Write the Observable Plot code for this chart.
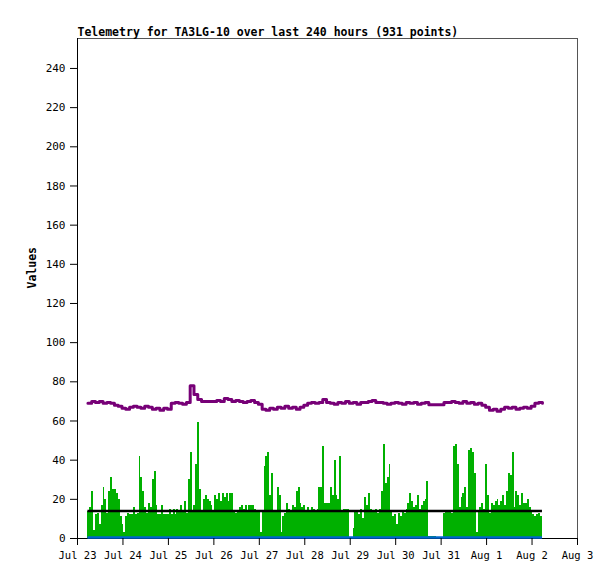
<!DOCTYPE html>
<html><head><meta charset="utf-8">
<script src="https://cdn.jsdelivr.net/npm/d3@7"></script>
<script src="https://cdn.jsdelivr.net/npm/@observablehq/plot@0.6"></script>
<style>body{margin:0;background:#fff}#chart svg{overflow:visible}</style>
</head><body><div id="chart"></div>
<script>
const title = "Telemetry for TA3LG-10 over last 240 hours (931 points)";
const yLabel = "Values";
const startTime = "2023-07-23T05:30:00Z";
const spanHours = 240;
// green series, one value per hour
const greenValues = [
 14,16,24,4,12,13,7,17,26,20,
 13,24,31,25,25,23,20,11,7,3,
 11,13,12,12,16,12,13,42,31,24,
 16,13,18,16,30,34,17,12,12,17,
 12,12,12,15,12,15,12,15,14,17,
 14,19,13,30,44,14,17,38,59,25,
 14,20,22,20,19,17,14,22,20,23,
 19,23,21,23,19,23,23,14,13,14,
 16,17,15,17,14,17,17,17,15,14,
 14,3,14,37,42,44,22,33,14,14,
 26,22,3,11,13,18,15,14,17,16,
 24,26,18,16,17,14,16,14,16,15,
 14,15,26,26,47,18,18,18,26,22,
 40,22,20,42,14,15,15,15,0,0,
 5,14,14,12,15,10,21,17,23,15,
 14,14,15,13,15,24,48,28,31,38,
 14,11,12,7,13,11,14,13,15,18,
 23,19,16,17,22,15,17,19,20,29,
 1,1,1,1,0,0,0,0,13,14,
 14,14,13,47,48,38,16,21,23,26,
 16,45,46,44,33,3,14,16,18,15,
 38,22,13,18,17,19,20,17,19,22,
 17,24,33,32,44,16,24,22,17,23,
 18,18,20,16,14,12,11,12,13,11
];
// purple series, one value every 2 hours
const purpleValues = [
 69,70,69.5,70,69,69.5,69,68,
 67.5,66.5,66,67,67.5,67,66.5,67.5,67,66,66.5,65.5,66.5,66,
 69,69.5,69,68.5,69.5,78,73.5,71,
 70,70,70,70,70.5,70,71.5,71,70,70.5,70,69.5,70,70.5,69.5,68.5,
 66,65.5,66.5,66,67,66.5,67.5,66.5,67,66,67,68,
 69,69.5,69,69.5,71,69.5,69,68.5,69.5,69,70,69,69.5,68.5,
 69.5,69.5,70,70.5,69.5,69.5,69,68.5,69,69.5,69,68.5,69.5,69,69.5,68.5,69,69.5,
 68.3,68.3,68.3,68.3,
 69.5,69.5,70,69.5,69,70,69,69.5,68.5,69,68,67,
 65.5,66,65,66,67,66.5,67,66,66.5,67,66.5,67.5,
 69,69.5,69
];
const averageValue = [14];
const zeroValue = [0];
const yTicks = [0,20,40,60,80,100,120,140,160,180,200,220,240];
const xTickDates = ["2023-07-23","2023-07-24","2023-07-25","2023-07-26","2023-07-27","2023-07-28","2023-07-29","2023-07-30","2023-07-31","2023-08-01","2023-08-02","2023-08-03"];
const xDomain = ["2023-07-23","2023-08-03"];
const yDomain = [0, 255.3];

const H = 3600000;
const t0 = new Date(startTime).getTime();
const tEnd = new Date(t0 + spanHours * H);
const green = greenValues.map((v, i) => ({x1: new Date(t0 + i * H), x2: new Date(t0 + (i + 1) * H), v}));
const purple = purpleValues.map((v, i) => ({t: new Date(t0 + i * 2 * H), v}));
const avg = averageValue.map(v => ({v, x1: new Date(t0), x2: tEnd}));
const zero = zeroValue.map(v => ({v, x1: new Date(t0), x2: tEnd}));

const plot = Plot.plot({
  width: 615, height: 579,
  marginLeft: 77, marginRight: 38, marginTop: 38, marginBottom: 41,
  style: {fontFamily: "DejaVu Sans Mono", color: "black", background: "white"},
  x: {type: "utc", domain: xDomain.map(d => new Date(d))},
  y: {domain: yDomain},
  marks: [
    Plot.frame({stroke: "#555"}),
    Plot.ruleY([yDomain[0]], {stroke: "black"}),
    Plot.rectY(green, {x1: "x1", x2: "x2", y: "v", fill: "#00b000", shapeRendering: "crispEdges"}),
    Plot.ruleX([new Date(xDomain[0])], {stroke: "black"}),
    Plot.ruleY(zero, {y: "v", x1: "x1", x2: "x2", stroke: "#0066cc", strokeWidth: 2.5, dy: -1}),
    Plot.ruleY(avg, {y: "v", x1: "x1", x2: "x2", stroke: "black", strokeWidth: 2.5}),
    Plot.line(purple, {x: "t", y: "v", curve: "step-after", stroke: "#770077", strokeWidth: 3}),
    Plot.axisY({ticks: yTicks, tickSize: 7, tickPadding: 5, label: null, fontSize: 11}),
    Plot.axisX({ticks: xTickDates.map(d => new Date(d)), tickFormat: d3.utcFormat("%b %-d"), tickSize: 7, tickPadding: 6, label: null, fontSize: 10.5}),
    Plot.text([title], {frameAnchor: "top-left", textAnchor: "start", lineAnchor: "bottom", dy: -3, fontWeight: "bold", fontSize: 11.5}),
    Plot.text([yLabel], {frameAnchor: "left", rotate: -90, dx: -45, fontWeight: "bold", fontSize: 11.5})
  ]
});
document.getElementById("chart").appendChild(plot);
</script>
</body></html>
